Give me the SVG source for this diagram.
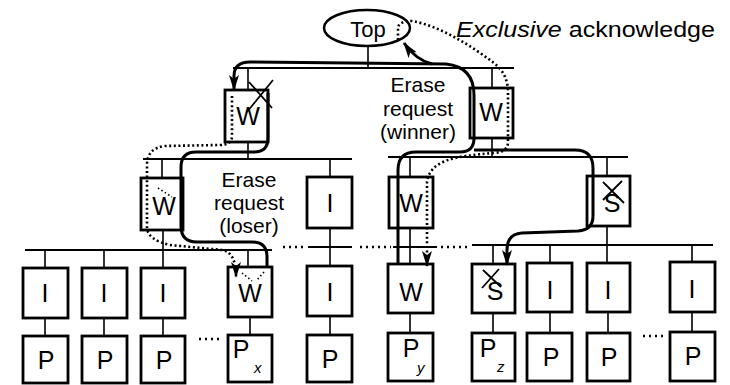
<svg xmlns="http://www.w3.org/2000/svg" width="730" height="385" viewBox="0 0 730 385">
<style>
.box{fill:#fff;stroke:#000;stroke-width:2.8}
.ell{fill:#fff;stroke:#000;stroke-width:2.5}
.bus{stroke:#000;stroke-width:2;fill:none}
.stub{stroke:#000;stroke-width:1.6;fill:none}
.sep{stroke:#000;stroke-width:2.4;stroke-dasharray:2 4;fill:none}
.req{stroke:#000;stroke-width:3;fill:none}
.ack{stroke:#000;stroke-width:2.6;stroke-dasharray:2 2.6;fill:none}
.cross{stroke:#000;stroke-width:1.8;fill:none}
.dcross{stroke:#000;stroke-width:1.6;stroke-dasharray:1.5 2.5;fill:none}
.lbl{font-family:"Liberation Sans",Arial,sans-serif;font-size:25px;text-anchor:middle;fill:#000}
.sub{font-family:"Liberation Sans",Arial,sans-serif;font-size:15px;font-style:italic;fill:#000}
.note{font-family:"Liberation Sans",Arial,sans-serif;font-size:21px;text-anchor:middle;fill:#000}
</style>
<defs>
<marker id="ah" viewBox="0 0 16 10" refX="15" refY="5" markerWidth="16" markerHeight="10" markerUnits="userSpaceOnUse" orient="auto">
<path d="M0,0 L16,5 L0,10 L4,5 z" fill="#000"/>
</marker>
</defs>
<rect width="730" height="385" fill="#fff"/>

<!-- nodes -->
<g id="top"><ellipse class="ell" cx="367" cy="28" rx="43" ry="18"/><text class="lbl" x="368" y="37" style="font-size:22px">Top</text></g>

<g id="w1-left"><rect class="box" x="225" y="90" width="43" height="52"/><text class="lbl" x="248" y="125">W</text><path class="cross" d="M249,82 L272,108 M273,80 L247,112"/></g>
<g id="w1-right"><rect class="box" x="470" y="88" width="43" height="50"/><text class="lbl" x="491" y="121">W</text></g>

<g id="w2-left"><rect class="box" x="141" y="178" width="42" height="52"/><text class="lbl" x="164" y="215">W</text><path class="dcross" d="M158,188 L172,197"/></g>
<g id="i2"><rect class="box" x="307" y="177" width="45" height="51"/><text class="lbl" x="330" y="212">I</text></g>
<g id="w2-mid"><rect class="box" x="389" y="177" width="44" height="51"/><text class="lbl" x="411" y="212">W</text></g>
<g id="s2"><rect class="box" x="587" y="176" width="43" height="50"/><text class="lbl" x="612" y="212">S</text><path class="cross" d="M603,182 L624,203 M622,181 L603,200"/></g>

<g id="c1-i"><rect class="box" x="23" y="268" width="45" height="50"/><text class="lbl" x="45" y="302">I</text></g>
<g id="c2-i"><rect class="box" x="82" y="268" width="45" height="50"/><text class="lbl" x="104" y="302">I</text></g>
<g id="c3-i"><rect class="box" x="141" y="268" width="44" height="50"/><text class="lbl" x="163" y="302">I</text></g>
<g id="cx-w"><rect class="box" x="228" y="267" width="44" height="50"/><text class="lbl" x="250" y="302">W</text><path class="dcross" d="M242,273 L252,281 M264,272 L256,281"/></g>
<g id="c5-i"><rect class="box" x="307" y="266" width="45" height="50"/><text class="lbl" x="330" y="301">I</text></g>
<g id="cy-w"><rect class="box" x="388" y="264" width="45" height="49"/><text class="lbl" x="411" y="301">W</text></g>
<g id="cz-s"><rect class="box" x="472" y="264" width="43" height="49"/><text class="lbl" x="495" y="300">S</text><path class="cross" d="M483,270 L501,287 M499,269 L482,288"/></g>
<g id="c8-i"><rect class="box" x="527" y="263" width="45" height="49"/><text class="lbl" x="550" y="299">I</text></g>
<g id="c9-i"><rect class="box" x="587" y="263" width="43" height="49"/><text class="lbl" x="608" y="299">I</text></g>
<g id="c10-i"><rect class="box" x="670" y="262" width="45" height="50"/><text class="lbl" x="692" y="298">I</text></g>

<g id="c1-p"><rect class="box" x="23" y="336" width="45" height="47"/><text class="lbl" x="46" y="369">P</text></g>
<g id="c2-p"><rect class="box" x="82" y="336" width="45" height="47"/><text class="lbl" x="105" y="369">P</text></g>
<g id="c3-p"><rect class="box" x="141" y="336" width="44" height="47"/><text class="lbl" x="164" y="369">P</text></g>
<g id="px"><rect class="box" x="228" y="335" width="44" height="47"/><text class="lbl" x="241" y="358">P</text><text class="sub" x="254" y="373">x</text></g>
<g id="c5-p"><rect class="box" x="307" y="335" width="45" height="47"/><text class="lbl" x="330" y="368">P</text></g>
<g id="py"><rect class="box" x="388" y="333" width="45" height="48"/><text class="lbl" x="411" y="357">P</text><text class="sub" x="417" y="373">y</text></g>
<g id="pz"><rect class="box" x="472" y="333" width="43" height="48"/><text class="lbl" x="488" y="357">P</text><text class="sub" x="497" y="372">z</text></g>
<g id="c8-p"><rect class="box" x="527" y="333" width="45" height="48"/><text class="lbl" x="551" y="366">P</text></g>
<g id="c9-p"><rect class="box" x="587" y="333" width="43" height="48"/><text class="lbl" x="609" y="366">P</text></g>
<g id="c10-p"><rect class="box" x="670" y="332" width="45" height="49"/><text class="lbl" x="693" y="365">P</text></g>

<!-- labels -->
<g id="labels">
<text x="456" y="37" style="font-family:'Liberation Sans',Arial,sans-serif;font-size:22px" textLength="259" lengthAdjust="spacingAndGlyphs"><tspan font-style="italic">Exclusive</tspan> acknowledge</text>
<text class="note" x="418" y="92">Erase</text>
<text class="note" x="418" y="116">request</text>
<text class="note" x="418" y="139">(winner)</text>
<text class="note" x="249" y="187">Erase</text>
<text class="note" x="249" y="210">request</text>
<text class="note" x="249" y="233">(loser)</text>
</g>

<!-- connectors -->
<g id="connectors">
<g id="links">
<path class="bus" d="M233,68 L514,68"/>
<path class="stub" d="M368,46 L368,68 M248,68 L248,90 M492,68 L492,88"/>
<path class="stub" d="M248,142 L248,159 M492,138 L492,157"/>
<path class="bus" d="M143,159 L352,159 M388,157 L628,157"/>
<path class="stub" d="M162,159 L162,178 M330,159 L330,177 M410,157 L410,177 M607,157 L607,176"/>
<path class="stub" d="M163,230 L163,250 M330,228 L330,266 M410,228 L410,264 M607,226 L607,263"/>
<path class="bus" d="M25,250 L272,250 M308,247 L352,247 M393,247 L437,247 M472,245 L713,245"/>
<path class="sep" d="M283,247 L305,247 M360,247 L391,247 M441,247 L468,247 M199,339 L221,339 M643,336 L667,336"/>
<path class="stub" d="M45,250 L45,268 M104,250 L104,268 M163,250 L163,268 M248,250 L248,267 M493,245 L493,264 M550,245 L550,263 M692,245 L692,262"/>
<path class="stub" d="M45,318 L45,336 M104,318 L104,336 M163,318 L163,336 M250,317 L250,335 M330,316 L330,335 M410,313 L410,333 M493,313 L493,333 M550,312 L550,333 M608,312 L608,333 M692,312 L692,332"/>
</g>
<g id="requests">
<path class="req" marker-end="url(#ah)" d="M398,263 L398,170 Q398,152 416,152 L460,152 Q474,152 474,138 L474,95 Q474,67 446,64 L250,62 Q234,62 234,76 L234,90"/>
<path class="req" marker-end="url(#ah)" d="M432,64 Q416,60 404,43"/>
<path class="req" marker-end="url(#ah)" d="M474,150 L575,150 Q593,150 593,168 L593,216 Q593,230 578,231 L522,233 Q507,234 507,250 L507,265"/>
<path class="req" d="M268,93 L268,138 Q268,152 254,152 L196,152 Q181,152 181,167 L181,226 Q181,242 197,242 L252,242 Q267,242 267,257 L267,266"/>
</g>
<g id="acks">
<path class="ack" marker-end="url(#ah)" d="M398,40 L398,27 Q400,21 412,21 C440,26 470,45 494,63 Q508,74 508,92 L508,142 Q508,152 494,153 C455,156 430,160 427,182 L427,266"/>
<path class="ack" marker-end="url(#ah)" d="M232,96 L232,136 Q232,145 220,145 L165,146 Q147,148 147,165 L147,228 Q148,240 170,245 L222,250 Q236,252 236,277"/>
</g>
</g>
</svg>
